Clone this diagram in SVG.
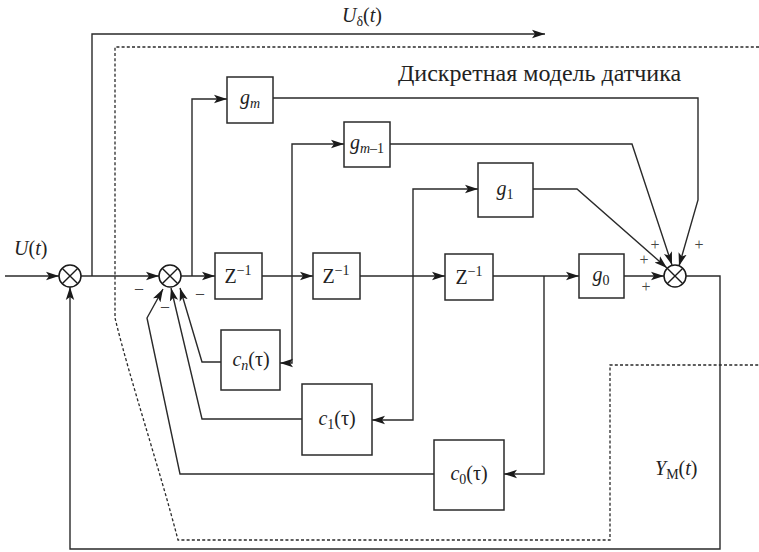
<svg xmlns="http://www.w3.org/2000/svg" width="759" height="552" viewBox="0 0 759 552">
<style>
.ln{fill:none;stroke:#2a2a2a;stroke-width:1.4}
.bx{fill:#fff;stroke:#2a2a2a;stroke-width:1.5}
.dot{fill:none;stroke:#2a2a2a;stroke-width:1.3;stroke-dasharray:3 2.2}
text{font-family:"Liberation Serif","Times New Roman",serif}
.t{fill:#222;font-size:20px}
.i{font-style:italic}
.sm{font-size:14px}
.sg{fill:#444;font-size:16px}
</style>
<defs>
<marker id="ar" markerUnits="userSpaceOnUse" markerWidth="14" markerHeight="10" refX="13" refY="5" orient="auto">
<path d="M0,0.8 L13,5 L0,9.2 L3,5 Z" fill="#1a1a1a"/>
</marker>
<g id="sum"><circle r="11" fill="#fff" stroke="#1a1a1a" stroke-width="1.5"/><path d="M-7.8,-7.8 L7.8,7.8 M-7.8,7.8 L7.8,-7.8" stroke="#1a1a1a" stroke-width="1.4"/></g>
</defs>
<rect width="759" height="552" fill="#fff"/>

<g id="boundary">
<path class="dot" d="M759,47 H115 V318 C130,380 160,470 178,540 H610 V365 H759"/>
</g>

<g id="connectors">
<path class="ln" d="M5,276 H59" marker-end="url(#ar)"/>
<path class="ln" d="M81,276 H159" marker-end="url(#ar)"/>
<path class="ln" d="M92,276 V34 H545" marker-end="url(#ar)"/>
<path class="ln" d="M181,276 H215" marker-end="url(#ar)"/>
<path class="ln" d="M192,276 V99 H227" marker-end="url(#ar)"/>
<path class="ln" d="M262,276 H313" marker-end="url(#ar)"/>
<path class="ln" d="M292,276 V144 H344" marker-end="url(#ar)"/>
<path class="ln" d="M292,276 V363 H280" marker-end="url(#ar)"/>
<path class="ln" d="M360,276 H445" marker-end="url(#ar)"/>
<path class="ln" d="M413,276 V189 H478" marker-end="url(#ar)"/>
<path class="ln" d="M413,276 V420 H372" marker-end="url(#ar)"/>
<path class="ln" d="M493,276 H579" marker-end="url(#ar)"/>
<path class="ln" d="M544,276 V474 H504" marker-end="url(#ar)"/>
<path class="ln" d="M624,276 H664" marker-end="url(#ar)"/>
<path class="ln" d="M533,189 H577 L667,268" marker-end="url(#ar)"/>
<path class="ln" d="M390,144 H632 L672,265" marker-end="url(#ar)"/>
<path class="ln" d="M273,98 H698 V200 L679,266" marker-end="url(#ar)"/>
<path class="ln" d="M686,276 H720 V549 H70 V287" marker-end="url(#ar)"/>
<path class="ln" d="M221,362 H202 L180,288" marker-end="url(#ar)"/>
<path class="ln" d="M302,419 H202 L171,288" marker-end="url(#ar)"/>
<path class="ln" d="M434,474 H180 L147,318 L163,289" marker-end="url(#ar)"/>
</g>

<g id="sum1"><use href="#sum" x="70" y="276"/></g>
<g id="sum2"><use href="#sum" x="170" y="276"/></g>
<g id="sum3"><use href="#sum" x="675" y="276"/></g>

<g id="z1"><rect class="bx" x="215" y="253" width="47" height="46"/><text class="t" x="238" y="283" text-anchor="middle">Z<tspan class="sm" dy="-8">−1</tspan></text></g>
<g id="z2"><rect class="bx" x="313" y="253" width="47" height="46"/><text class="t" x="336" y="283" text-anchor="middle">Z<tspan class="sm" dy="-8">−1</tspan></text></g>
<g id="z3"><rect class="bx" x="445" y="254" width="48" height="46"/><text class="t" x="469" y="284" text-anchor="middle">Z<tspan class="sm" dy="-8">−1</tspan></text></g>

<g id="gm"><rect class="bx" x="227" y="77" width="46" height="46"/><text class="t i" x="250" y="104" text-anchor="middle">g<tspan class="sm" dy="4">m</tspan></text></g>
<g id="gm1"><rect class="bx" x="344" y="122" width="46" height="45"/><text class="t" x="367" y="149" text-anchor="middle"><tspan class="i">g</tspan><tspan class="sm" dy="4"><tspan class="i">m</tspan>–1</tspan></text></g>
<g id="g1"><rect class="bx" x="478" y="163" width="55" height="54"/><text class="t" x="505" y="195" text-anchor="middle"><tspan class="i">g</tspan><tspan class="sm" dy="4">1</tspan></text></g>
<g id="g0"><rect class="bx" x="579" y="254" width="45" height="44"/><text class="t" x="601" y="281" text-anchor="middle"><tspan class="i">g</tspan><tspan class="sm" dy="4">0</tspan></text></g>

<g id="cn"><rect class="bx" x="221" y="330" width="59" height="60"/><text class="t" x="251" y="366" text-anchor="middle"><tspan class="i">c</tspan><tspan class="sm i" dy="4">n</tspan><tspan dy="-4">(τ)</tspan></text></g>
<g id="c1"><rect class="bx" x="302" y="384" width="70" height="71"/><text class="t" x="337" y="425" text-anchor="middle"><tspan class="i">c</tspan><tspan class="sm" dy="4">1</tspan><tspan dy="-4">(τ)</tspan></text></g>
<g id="c0"><rect class="bx" x="434" y="440" width="70" height="70"/><text class="t" x="469" y="480" text-anchor="middle"><tspan class="i">c</tspan><tspan class="sm" dy="4">0</tspan><tspan dy="-4">(τ)</tspan></text></g>

<g id="labels">
<text class="t" x="14" y="255"><tspan class="i">U</tspan>(<tspan class="i">t</tspan>)</text>
<text class="t" x="342" y="22"><tspan class="i">U</tspan><tspan class="sm" dy="4">δ</tspan><tspan dy="-4">(</tspan><tspan class="i">t</tspan>)</text>
<text class="t" x="655" y="475"><tspan class="i">Y</tspan><tspan class="sm" dy="4">M</tspan><tspan dy="-4">(</tspan><tspan class="i">t</tspan>)</text>
<text class="t" x="398" y="81" style="font-size:24px">Дискретная модель датчика</text>
<text class="sg" x="139" y="293" text-anchor="middle">–</text>
<text class="sg" x="165" y="311" text-anchor="middle">–</text>
<text class="sg" x="200" y="298" text-anchor="middle">–</text>
<text class="sg" x="655" y="250" text-anchor="middle">+</text>
<text class="sg" x="644" y="265" text-anchor="middle">+</text>
<text class="sg" x="699" y="250" text-anchor="middle">+</text>
<text class="sg" x="646" y="292" text-anchor="middle">+</text>
</g>
</svg>
